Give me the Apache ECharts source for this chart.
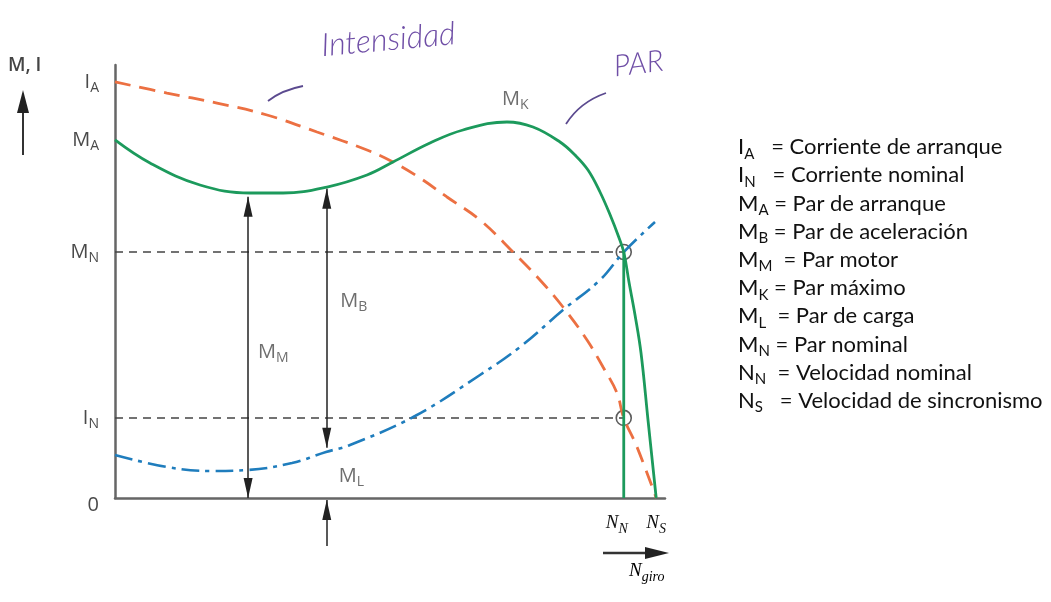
<!DOCTYPE html>
<html><head><meta charset="utf-8">
<script src="https://cdn.jsdelivr.net/npm/echarts@6/dist/echarts.min.js"></script>
<style>html,body{margin:0;padding:0;background:#fff}#c{width:1051px;height:602px}</style>
</head><body><div id="c"></div>
<script>
// ---------- data (x: % of axis length, y: % of axis height) ----------
const yTickValues = [0, 18.5, 56.8, 82.7, 96.1];
const yTickNames  = [['0',''], ['I','N'], ['M','N'], ['M','A'], ['I','A']];
const speedNominal = 92.5;
const speedSync = 98.4;
const xTickValues = [speedNominal, speedSync];
const xTickNames  = [['N','N'], ['N','S']];
const levelNominalTorque = 56.8;
const levelNominalCurrent = 18.5;

const currentX = [0, 9.45, 18.55, 27.64, 36.73, 45.82, 50.55, 55.45, 60.36, 66.36, 72.36, 77.27, 81.45, 85.82, 88.73, 91.27, 92.5, 94.91, 98.4];
const currentY = [96.1, 93.53, 91.22, 88.45, 84.53, 80.37, 77.6, 73.9, 69.52, 64.2, 56.81, 50.35, 44.11, 36.49, 30.25, 24.25, 18.5, 11.78, 0];

const torqueX = [0, 6.36, 15.45, 24.55, 30.55, 38.55, 45.82, 50.55, 57.27, 63.27, 71.27, 76.0, 80.91, 83.64, 86.0, 88.18, 90.18, 91.45, 92.5, 93.45, 94.55, 95.64, 96.91, 98.4];
const torqueY = [82.7, 77.37, 72.29, 70.44, 70.44, 71.82, 74.6, 77.6, 81.99, 84.99, 86.84, 85.68, 82.22, 79.21, 75.75, 70.67, 64.9, 60.74, 56.8, 49.88, 42.26, 33.49, 18.01, 0];

const loadX = [0, 9.45, 17.27, 24.18, 32.18, 38.36, 42.73, 54.55, 66.36, 73.64, 81.45, 88.18, 92.5, 98.18];
const loadY = [9.93, 7.16, 6.24, 6.47, 8.08, 10.62, 12.24, 18.94, 28.41, 34.87, 43.42, 50.35, 56.8, 63.74];

// dimension arrows: [x, from y, to y]
const arrowMotor = [24.2, 0, 69.6];
const arrowAccel = [38.5, 11.6, 71.4];
const arrowLoad  = [38.5, -10.9, 0];

const annotNames = [['M','K'], ['M','B'], ['M','M'], ['M','L']];
const annotX = [72.8, 43.4, 28.8, 43.0];
const annotY = [92.1, 45.5, 33.7, 5.1];

const glossarySymbols = [['I','A'],['I','N'],['M','A'],['M','B'],['M','M'],['M','K'],['M','L'],['M','N'],['N','N'],['N','S']];
const glossaryTexts = ['   = Corriente de arranque', '   = Corriente nominal', ' = Par de arranque', ' = Par de aceleración', '  = Par motor', ' = Par máximo', '  = Par de carga', ' = Par nominal', '  = Velocidad nominal', '   = Velocidad de sincronismo'];

// ---------- chart ----------
const zip = (xs, ys) => xs.map((x, i) => [x, ys[i]]);
const labelColor = '#4a4a4a';
const labelRich = {
  m: {fontSize: 20, color: labelColor, fontFamily: 'Open Sans', lineHeight: 26},
  s: {fontSize: 14, color: labelColor, fontFamily: 'Open Sans', lineHeight: 14, verticalAlign: 'bottom'},
  z: {fontSize: 20, color: labelColor, fontFamily: 'Open Sans', lineHeight: 26, padding: [14,0,0,0]}
};
const italicRich = {
  m: {fontSize: 19, color: '#111', fontFamily: 'Liberation Serif', fontStyle: 'italic', lineHeight: 26},
  s: {fontSize: 14, color: '#111', fontFamily: 'Liberation Serif', fontStyle: 'italic', lineHeight: 13, verticalAlign: 'bottom'},
  g: {width: 14}
};
const symText = (p) => p[1] === '' ? `{z|${p[0]}}` : `{m|${p[0]}}{s|${p[1]}}`;

function arrowLine(a, bothEnds) {
  const head = {symbol: 'triangle', symbolSize: [9, 20], symbolOffset: [0, 10]};
  return [
    Object.assign({coord: [a[0], a[1]]}, bothEnds ? head : {symbol: 'none'}),
    Object.assign({coord: [a[0], a[2]]}, head)
  ];
}

const glossaryRich = {
  b: {fontSize: 22, fontFamily: 'Lato', fontWeight: 'normal', color: '#111', lineHeight: 28.2},
  s: {fontSize: 15, fontFamily: 'Lato', fontWeight: 'normal', color: '#111', lineHeight: 13, verticalAlign: 'bottom'}
};
const glossaryText = glossarySymbols.map((p, i) => `{b|${p[0]}}{s|${p[1]}}{b|${glossaryTexts[i]}}`).join('\n');

const chart = echarts.init(document.getElementById('c'), null, {renderer: 'canvas'});
chart.setOption({
  animation: false,
  backgroundColor: '#fff',
  title: {left: 733, top: 128, text: glossaryText, textStyle: {fontWeight: 'normal', rich: glossaryRich}},
  grid: [
    {left: 115, top: 65, width: 550, height: 433},
    {left: 115, top: 500, width: 550, height: 46}
  ],
  xAxis: [{
    type: 'value', min: 0, max: 100, gridIndex: 0,
    axisLine: {show: true, lineStyle: {color: '#666', width: 2.5}},
    axisTick: {show: false}, splitLine: {show: false},
    axisLabel: {
      customValues: xTickValues, margin: 12,
      formatter: v => {
        const i = xTickValues.indexOf(v);
        return symText(xTickNames[i]) + (i === 0 ? '{g|}' : '');
      }, rich: italicRich
    }
  }, {type: 'value', min: 0, max: 100, gridIndex: 1, show: false}],
  yAxis: [{
    type: 'value', min: 0, max: 100, gridIndex: 0,
    axisLine: {show: true, lineStyle: {color: '#666', width: 2.5}},
    axisTick: {show: false}, splitLine: {show: false},
    axisLabel: {
      customValues: yTickValues, margin: 16,
      formatter: v => symText(yTickNames[yTickValues.indexOf(v)]), rich: labelRich
    }
  }, {type: 'value', min: -10.9, max: 0, gridIndex: 1, show: false}],
  series: [
    {name: 'ref MN', type: 'line', data: [[0, levelNominalTorque], [speedNominal, levelNominalTorque]], showSymbol: false, silent: true,
      lineStyle: {color: '#444', width: 1.5, type: [8, 6]}},
    {name: 'ref IN', type: 'line', data: [[0, levelNominalCurrent], [speedNominal, levelNominalCurrent]], showSymbol: false, silent: true,
      lineStyle: {color: '#444', width: 1.5, type: [8, 6]}},
    {name: 'Intensidad', type: 'line', data: zip(currentX, currentY), smooth: 0.4, showSymbol: false, silent: true,
      lineStyle: {color: '#ec7042', width: 2.8, type: [16, 9]}},
    {name: 'Carga', type: 'line', data: zip(loadX, loadY), smooth: 0.4, showSymbol: false, silent: true,
      lineStyle: {color: '#1f7dbd', width: 2.6, type: [18, 6, 4, 6]}},
    {name: 'Par', type: 'line', data: zip(torqueX, torqueY), smooth: 0.4, showSymbol: false, silent: true,
      lineStyle: {color: '#1c9a5c', width: 2.8}},
    {name: 'NN', type: 'line', data: [[speedNominal, 0], [speedNominal, levelNominalTorque]], showSymbol: false, silent: true,
      lineStyle: {color: '#1c9a5c', width: 2.8}},
    {name: 'points', type: 'scatter', data: [[speedNominal, levelNominalTorque], [speedNominal, levelNominalCurrent]], symbolSize: 15, silent: true,
      itemStyle: {color: 'rgba(0,0,0,0)', borderColor: '#333', borderWidth: 1.6}},
    {name: 'labels', type: 'scatter', symbolSize: 0, silent: true,
      data: annotNames.map((n, i) => ({value: [annotX[i], annotY[i]], label: {formatter: symText(n)}})),
      label: {show: true, position: 'inside', rich: labelRich}},
    {name: 'arrows', type: 'line', data: [], silent: true,
      markLine: {silent: true, animation: false, label: {show: false}, emphasis: {disabled: true},
        lineStyle: {color: '#222', width: 1.5, type: 'solid'},
        data: [arrowLine(arrowMotor, true), arrowLine(arrowAccel, true)]}},
    {name: 'arrowL', type: 'line', xAxisIndex: 1, yAxisIndex: 1, data: [], silent: true,
      markLine: {silent: true, animation: false, label: {show: false}, emphasis: {disabled: true},
        lineStyle: {color: '#222', width: 1.5, type: 'solid'},
        data: [arrowLine(arrowLoad, false)]}}
  ],
  graphic: [
    {type: 'text', left: 8, top: 56, style: {text: 'M, I', font: '600 19px "Open Sans"', fill: '#444'}},
    {type: 'line', shape: {x1: 23, y1: 155, x2: 23, y2: 108}, style: {stroke: '#333', lineWidth: 2}},
    {type: 'polygon', shape: {points: [[17, 113], [23, 90], [29, 113]]}, style: {fill: '#222'}},
    {type: 'line', shape: {x1: 603, y1: 553, x2: 650, y2: 553}, style: {stroke: '#333', lineWidth: 2.5}},
    {type: 'polygon', shape: {points: [[645, 547], [669, 553], [645, 559]]}, style: {fill: '#222'}},
    {type: 'text', x: 629, y: 558, style: {text: '{m|N}{s|giro}', rich: italicRich}},
    {type: 'text', x: 320, y: 30, rotation: 0.09, style: {text: 'Intensidad', font: 'italic 300 32px Lato', fill: '#6f4ea6'}},
    {type: 'text', x: 612, y: 52, rotation: 0.12, style: {text: 'PAR', font: 'italic 300 30px Lato', fill: '#6f4ea6'}},
    {type: 'bezierCurve', shape: {x1: 268, y1: 101, cpx1: 282, cpy1: 90, x2: 303, y2: 86}, style: {stroke: '#5b4a8f', lineWidth: 1.8, fill: null}},
    {type: 'bezierCurve', shape: {x1: 566, y1: 124, cpx1: 580, cpy1: 102, x2: 606, y2: 93}, style: {stroke: '#5b4a8f', lineWidth: 1.8, fill: null}}
  ]
});
</script></body></html>
